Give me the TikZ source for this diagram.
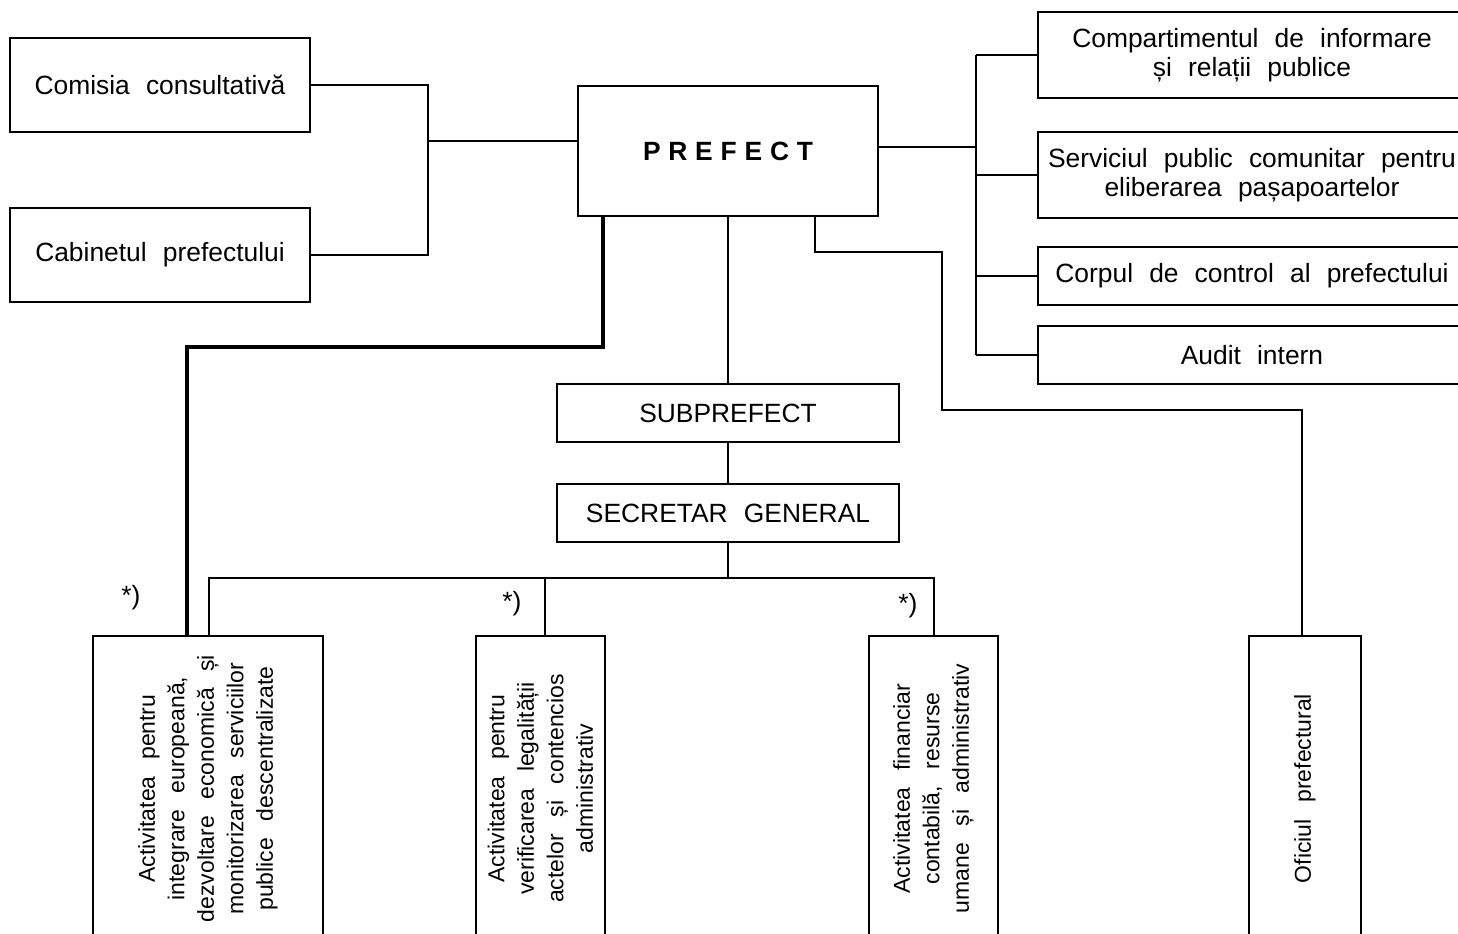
\documentclass[tikz,border=0pt]{standalone}
\usepackage{fontspec}
\setmainfont{Liberation Sans}[WordSpace=2.2]
\newfontfamily\rotfam{Liberation Sans}[WordSpace=2.6]
\newcommand\diafont{\fontsize{13.2}{14.6}\selectfont}
\newcommand\rotfont{\rotfam\fontsize{11.5}{14.75}\selectfont}
\begin{document}
\begin{tikzpicture}[x=0.5pt,y=-0.5pt,
  every node/.style={font=\diafont},
  box/.style={draw,line width=1pt,inner sep=0pt,align=center},
  vbox/.style={box,rotate=90,anchor=east,minimum width=152.5pt,font=\rotfont},
  heavy/.style={line width=2.4pt},
  every path/.style={line width=1pt}]
\useasboundingbox (0,0) rectangle (1458,933);
% left boxes
\node[box,minimum width=150pt,minimum height=47pt] (com) at (160,85) {Comisia consultativă};
\node[box,minimum width=150pt,minimum height=47pt] (cab) at (160,255) {Cabinetul prefectului};
% prefect
\node[box,minimum width=150pt,minimum height=65pt] (pref) at (728,151)
  {\textbf{P\hspace{3.9pt}R\hspace{3.9pt}E\hspace{3.9pt}F\hspace{3.9pt}E\hspace{3.9pt}C\hspace{3.9pt}T}};
\node[box,minimum width=171pt,minimum height=29pt] (sub) at (728,413) {SUBPREFECT};
\node[box,minimum width=171pt,minimum height=29pt] (sg) at (728,513) {SECRETAR GENERAL};
% right boxes
\node[box,minimum width=214pt,minimum height=43pt] (comp) at (1252,55) {Compartimentul de informare\\și relații publice};
\node[box,minimum width=214pt,minimum height=43pt] (serv) at (1252,175) {Serviciul public comunitar pentru\\eliberarea pașapoartelor};
\node[box,minimum width=214pt,minimum height=29pt] (corp) at (1252,276) {Corpul de control al prefectului};
\node[box,minimum width=214pt,minimum height=29pt] (audit) at (1252,355) {Audit intern};
% bottom boxes
\node[vbox,minimum height=115pt] (b1) at (208,635) {Activitatea pentru\\integrare europeană,\\dezvoltare economică și\\monitorizarea serviciilor\\publice descentralizate};
\node[vbox,minimum height=64.5pt] (b2) at (540.5,635) {Activitatea pentru\\verificarea legalității\\actelor și contencios\\administrativ};
\node[vbox,minimum height=64.5pt] (b3) at (933.5,635) {Activitatea financiar\\contabilă, resurse\\umane și administrativ};
\node[vbox,minimum height=56pt] (b4) at (1305,635) {Oficiul prefectural};
% notes
\node (st1) at (131,598) {*)};
\node (st2) at (512,604) {*)};
\node (st3) at (908,606) {*)};
% left connectors
\coordinate (jl) at (428,141);
\draw (com.east) -| (jl);
\draw (cab.east) -| (jl);
\draw (jl) -- (jl -| pref.west);
% right connectors
\coordinate (jr) at (976,147);
\draw (jr -| pref.east) -- (jr);
\draw (comp.west -| jr) -- (audit.west -| jr);
\draw (comp.west -| jr) -- (comp.west);
\draw (serv.west -| jr) -- (serv.west);
\draw (corp.west -| jr) -- (corp.west);
\draw (audit.west -| jr) -- (audit.west);
% heavy line
\draw[heavy] (603,0 |- pref.south) |- (187,347) -- (187,0 |- b1.east);
% central chain
\draw (pref.south) -- (sub.north);
\draw (sub.south) -- (sg.north);
\coordinate (jb) at (728,578);
\draw (sg.south) -- (jb);
\draw (209,0 |- b1.east) |- (jb);
\draw (934,0 |- b3.east) |- (jb);
\draw (545,0 |- b2.east) -- (545,0 |- jb);
% oficiul connector
\draw (815,0 |- pref.south) |- (942,252) |- (1302,410) -- (1302,0 |- b4.east);
\end{tikzpicture}
\end{document}
